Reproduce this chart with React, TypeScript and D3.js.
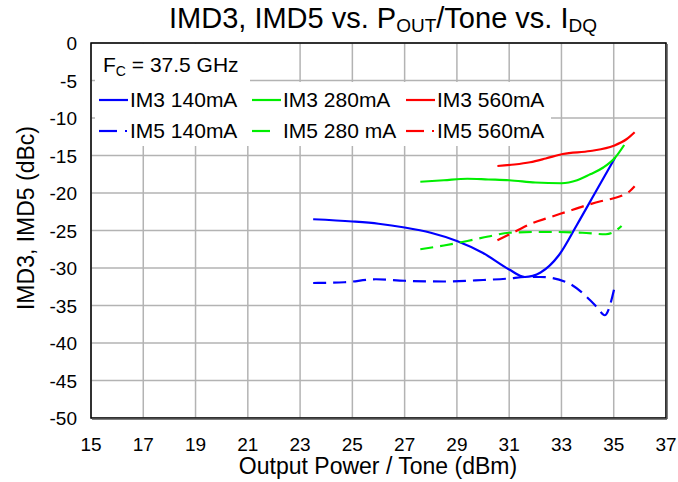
import React from "react";
import * as d3 from "d3";

type Pt = [number, number];

const xTicks = [15, 17, 19, 21, 23, 25, 27, 29, 31, 33, 35, 37];
const yTicks = [0, -5, -10, -15, -20, -25, -30, -35, -40, -45, -50];

const im3_140: Pt[] = [
  [23.5, -23.5], [25, -23.8], [26, -24.1], [27, -24.6], [28, -25.3], [29, -26.4],
  [30, -28.0], [31, -30.2], [31.6, -31.2], [32.2, -30.6], [32.9, -28.3], [33.6, -24.2],
  [34.3, -19.9], [35.05, -15.3],
];
const im3_280: Pt[] = [
  [27.6, -18.5], [28.5, -18.3], [29.4, -18.1], [30.2, -18.2], [31.0, -18.3], [32.0, -18.6],
  [33.0, -18.7], [33.6, -18.3], [34.1, -17.5], [34.6, -16.6], [35.05, -15.3], [35.4, -13.6],
];
const im3_560: Pt[] = [
  [30.55, -16.4], [31.2, -16.2], [31.8, -15.9], [32.4, -15.4], [33.05, -14.8], [34.1, -14.4],
  [35.0, -13.7], [35.5, -12.8], [35.8, -11.9],
];
const im5_140: Pt[] = [
  [23.5, -32.0], [24.7, -31.9], [25.9, -31.5], [27.0, -31.7], [28.5, -31.8], [30.0, -31.6],
  [31.0, -31.4], [31.6, -31.2], [32.2, -31.2], [33.2, -31.9], [34.1, -34.3], [34.4, -35.4],
  [34.65, -36.3], [35.05, -32.3],
];
const im5_280: Pt[] = [
  [27.6, -27.5], [28.5, -27.0], [29.4, -26.4], [30.2, -25.8], [31.0, -25.3], [32.0, -25.2],
  [32.9, -25.2], [33.8, -25.3], [34.7, -25.5], [35.0, -25.2], [35.3, -24.4],
];
const im5_560: Pt[] = [
  [30.55, -26.3], [31.2, -25.2], [31.9, -24.0], [32.5, -23.3], [33.2, -22.5], [33.9, -21.7],
  [34.5, -21.1], [35.0, -20.7], [35.35, -20.3], [35.6, -19.8], [35.8, -19.1],
];

const seriesNames = ["IM3 140mA", "IM3 280mA", "IM3 560mA", "IM5 140mA", "IM5 280 mA", "IM5 560mA"];
const seriesData = [im3_140, im3_280, im3_560, im5_140, im5_280, im5_560];
const seriesColors = ["#0000ff", "#00ee00", "#ff0000", "#0000ff", "#00ee00", "#ff0000"];
const seriesDashed = [false, false, false, true, true, true];
const legendDot = [false, false, false, true, false, true];

const W = 678;
const H = 482;
const left = 91, right = 666, top = 43, bottom = 418;
const FONT = "'Liberation Sans', Arial, Helvetica, sans-serif";

export default function App() {
  const x = d3.scaleLinear().domain([15, 37]).range([left, right]);
  const y = d3.scaleLinear().domain([-50, 0]).range([bottom, top]);
  const line = d3
    .line<Pt>()
    .x((d) => x(d[0]))
    .y((d) => y(d[1]))
    .curve(d3.curveMonotoneX);

  const legendCols = [99, 252, 406];
  const legendRows = [100, 131];

  return (
    <svg width={W} height={H} style={{ position: "absolute", left: 0, top: 0, background: "#fff" }} fontFamily={FONT}>
      <rect x={0} y={0} width={W} height={H} fill="#fff" />
      {/* title */}
      <text x={383} y={28} textAnchor="middle" fontSize={29} fill="#000">
        IMD3, IMD5 vs. P<tspan fontSize={19} dy={4}>OUT</tspan>
        <tspan dy={-4}>/Tone vs. I</tspan>
        <tspan fontSize={19} dy={4}>DQ</tspan>
      </text>
      {/* grid */}
      {xTicks.map((t) => (
        <line key={"gx" + t} x1={x(t)} x2={x(t)} y1={top} y2={bottom} stroke="#b3b3b3" strokeWidth={1.5} />
      ))}
      {yTicks.map((t) => (
        <line key={"gy" + t} x1={left} x2={right} y1={y(t)} y2={y(t)} stroke="#b3b3b3" strokeWidth={1.5} />
      ))}
      {/* legend backgrounds */}
      <rect x={left + 4} y={top + 1} width={155} height={38} fill="#fff" />
      <rect x={left + 4} y={82} width={456} height={64} fill="#fff" />
      {/* series */}
      {seriesData.map((d, i) => (
        <path
          key={"s" + i}
          d={line(d) || ""}
          fill="none"
          stroke={seriesColors[i]}
          strokeWidth={2.2}
          strokeDasharray={seriesDashed[i] ? "13,7" : undefined}
        />
      ))}
      {/* frame */}
      <rect x={left} y={top} width={right - left} height={bottom - top} fill="none" stroke="#000" strokeWidth={1.5} />
      <line x1={right + 1} x2={right + 1} y1={top + 1} y2={bottom + 1} stroke="#555" strokeWidth={1.5} />
      <line x1={left + 1} x2={right + 1} y1={bottom + 1} y2={bottom + 1} stroke="#555" strokeWidth={1.5} />
      {/* y ticks */}
      {yTicks.map((t) => (
        <text key={"ty" + t} x={77} y={y(t) + 7} textAnchor="end" fontSize={19} fill="#000">
          {t}
        </text>
      ))}
      {xTicks.map((t) => (
        <text key={"tx" + t} x={x(t)} y={451} textAnchor="middle" fontSize={19} fill="#000">
          {t}
        </text>
      ))}
      <text x={378} y={474} textAnchor="middle" fontSize={23} fill="#000">
        Output Power / Tone (dBm)
      </text>
      <text transform="translate(34,218) rotate(-90)" textAnchor="middle" fontSize={23} fill="#000">
        IMD3, IMD5 (dBc)
      </text>
      {/* legend */}
      <text x={103} y={72} fontSize={21} fill="#000">
        F<tspan fontSize={14} dy={4}>C</tspan>
        <tspan dy={-4}> = 37.5 GHz</tspan>
      </text>
      {seriesNames.map((n, i) => {
        const cx = legendCols[i % 3];
        const cy = legendRows[Math.floor(i / 3)];
        return (
          <g key={"lg" + i}>
            {seriesDashed[i] ? (
              <>
                <line x1={cx} x2={cx + 18} y1={cy} y2={cy} stroke={seriesColors[i]} strokeWidth={2.2} />
                {legendDot[i] && (
                  <line x1={cx + 26} x2={cx + 28} y1={cy} y2={cy} stroke={seriesColors[i]} strokeWidth={2.2} />
                )}
              </>
            ) : (
              <line x1={cx} x2={cx + 29} y1={cy} y2={cy} stroke={seriesColors[i]} strokeWidth={2.2} />
            )}
            <text x={cx + 31} y={cy + 7} fontSize={21} fill="#000">
              {n}
            </text>
          </g>
        );
      })}
    </svg>
  );
}
